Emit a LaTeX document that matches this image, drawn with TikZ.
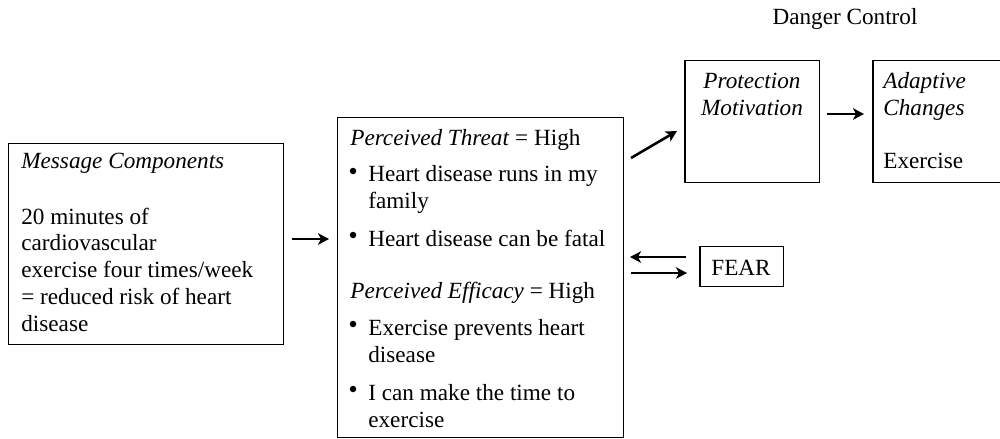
\documentclass[tikz,border=0pt]{standalone}
\usepackage{fontspec}
\setmainfont{Liberation Serif}
\usetikzlibrary{arrows.meta}
\begin{document}
\begin{tikzpicture}[x=0.02cm,y=-0.02cm,
  box/.style={draw, line width=0.85pt, inner sep=0pt, anchor=north west},
  % multi-line nodes: the base anchor sits on the last line's baseline
  txt/.style={anchor=base west, inner sep=0pt, align=left,
    font=\fontsize{13.2}{15.2}\selectfont},
  ctxt/.style={anchor=base, inner sep=0pt, align=center,
    font=\fontsize{13.2}{15.2}\selectfont},
  arr/.style={line width=1.45pt, -{Stealth[length=2.2mm,width=2.3mm,inset=0.6mm]}},
  dot/.style={circle, fill, inner sep=0pt, minimum size=1.3mm}]
\useasboundingbox (0,0) rectangle (1000,439);
\clip (0,0) rectangle (1000,439);

% boxes
\node[box, minimum width=55mm, minimum height=40.2mm] (msg) at (8,143) {};
\node[box, minimum width=57.2mm, minimum height=64mm] (mid) at (337,117) {};
\node[box, minimum width=27mm, minimum height=24.4mm] (prot) at (684,60) {};
\node[box, minimum width=28mm, minimum height=24.4mm] (adapt) at (872,60) {};
\node[box, minimum width=16.8mm, minimum height=8mm] (fear) at (699,246) {};

% message components
\node[txt] (msgt) at (21,168) {\textit{Message Components}};
\node[txt] (msgb) at (21,331) {20 minutes of\\cardiovascular\\exercise four times/week\\= reduced risk of heart\\disease};

% perceived threat and efficacy
\node[txt] (thr) at (350,145) {\textit{Perceived Threat} = High};
\node[dot] (b1) at (353,171) {};
\node[txt] (t1) at (368,208) {Heart disease runs in my\\family};
\node[dot] (b2) at (353,235) {};
\node[txt] (t2) at (368,246) {Heart disease can be fatal};
\node[txt] (eff) at (350,298) {\textit{Perceived Efficacy} = High};
\node[dot] (b3) at (353,324) {};
\node[txt] (e1) at (368,362) {Exercise prevents heart\\disease};
\node[dot] (b4) at (353,389) {};
\node[txt] (e2) at (368,427) {I can make the time to\\exercise};

% danger control path
\node[ctxt] (dc) at (845,25) {Danger Control};
\node[ctxt] (pm) at (752,115) {\textit{Protection}\\\textit{Motivation}};
\node[txt] (ac) at (883,115) {\textit{Adaptive}\\\textit{Changes}};
\node[txt] (ex) at (883,168) {Exercise};
\node[ctxt] (ft) at (741,275) {FEAR};

% arrow end points
\coordinate (m1) at (292,239);
\coordinate (m2) at (329,239);
\coordinate (d1) at (631,158);
\coordinate (d2) at (677,131);
\coordinate (p1) at (827,114);
\coordinate (p2) at (864,114);
\coordinate (f1) at (686,257);
\coordinate (f2) at (630,257);
\coordinate (f3) at (631,273);
\coordinate (f4) at (687,273);

\draw[arr] (m1) -- (m2);
\draw[arr] (d1) -- (d2);
\draw[arr] (p1) -- (p2);
\draw[arr] (f1) -- (f2);
\draw[arr] (f3) -- (f4);
\end{tikzpicture}
\end{document}
